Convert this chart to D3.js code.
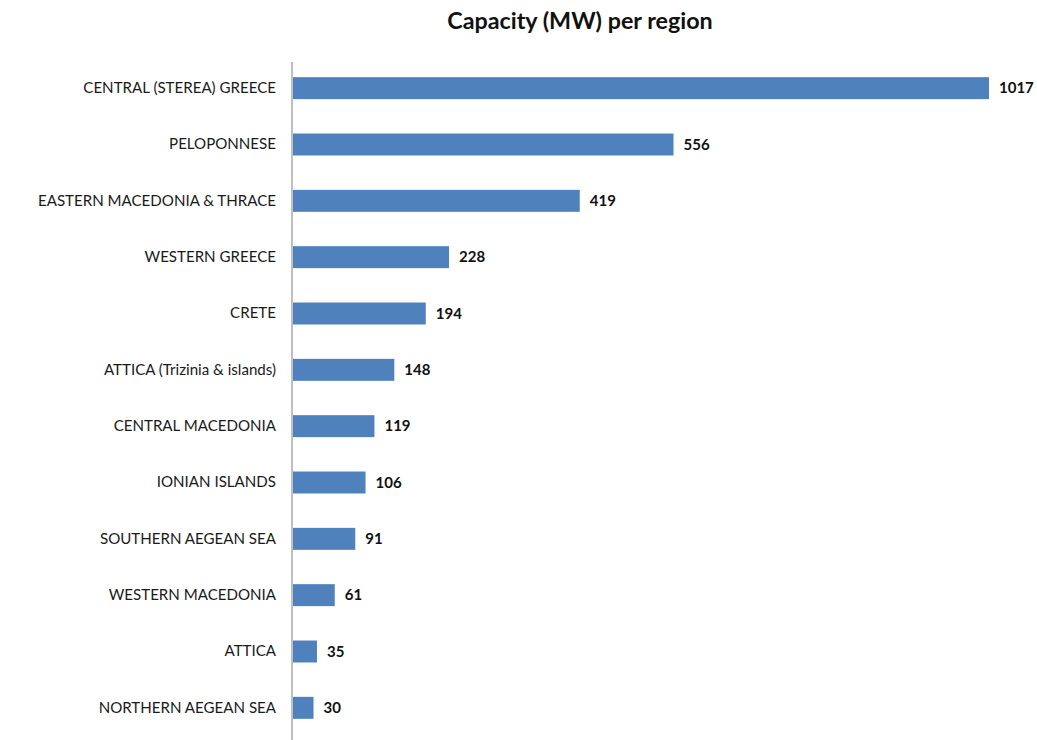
<!DOCTYPE html>
<html>
<head>
<meta charset="utf-8">
<script src="https://cdn.jsdelivr.net/npm/d3@7"></script>
<style>
  html, body { margin: 0; padding: 0; background: #fff; }
  svg { display: block; }
</style>
</head>
<body>
<svg id="chart" width="1037" height="740"></svg>
<script>
// Installed capacity per region, in MW
const regions = [
  "CENTRAL (STEREA) GREECE",
  "PELOPONNESE",
  "EASTERN MACEDONIA & THRACE",
  "WESTERN GREECE",
  "CRETE",
  "ATTICA (Trizinia & islands)",
  "CENTRAL MACEDONIA",
  "IONIAN ISLANDS",
  "SOUTHERN AEGEAN SEA",
  "WESTERN MACEDONIA",
  "ATTICA",
  "NORTHERN AEGEAN SEA"
];
const capacity = [1017, 556, 419, 228, 194, 148, 119, 106, 91, 61, 35, 30];
const title = "Capacity (MW) per region";

const svg = d3.select("#chart");
const font = "Lato, 'Open Sans', sans-serif";

const x = d3.scaleLinear().domain([0, 1017]).range([293, 989]);
const y = d3.scaleBand().domain(regions).range([60, 736]).paddingInner(0.61).paddingOuter(0.305);

svg.append("text")
  .attr("x", 580).attr("y", 29)
  .attr("text-anchor", "middle")
  .attr("font-family", font)
  .attr("font-weight", "bold")
  .attr("font-size", 23.3)
  .attr("fill", "#111")
  .text(title);

// Bars
svg.append("g").selectAll("rect")
  .data(regions)
  .join("rect")
  .attr("x", x(0))
  .attr("y", d => y(d))
  .attr("width", (d, i) => x(capacity[i]) - x(0))
  .attr("height", y.bandwidth())
  .attr("fill", "#4f81bd");

// Category axis
const axis = svg.append("g")
  .attr("transform", `translate(${x(0) - 1},0)`)
  .call(d3.axisLeft(y).tickSize(0).tickPadding(16));
axis.select(".domain").attr("stroke", "#bfbfbf").attr("stroke-width", 2)
  .attr("d", "M0,62V740");
axis.selectAll("text")
  .attr("font-family", font)
  .attr("font-size", 15.1)
  .attr("fill", "#1a1a1a");

// Value labels
svg.append("g").selectAll("text")
  .data(regions)
  .join("text")
  .attr("x", (d, i) => x(capacity[i]) + 10)
  .attr("y", d => y(d) + y.bandwidth() / 2)
  .attr("dy", "0.35em")
  .attr("font-family", font)
  .attr("font-weight", "bold")
  .attr("font-size", 15)
  .attr("fill", "#111")
  .text((d, i) => capacity[i]);
</script>
</body>
</html>
